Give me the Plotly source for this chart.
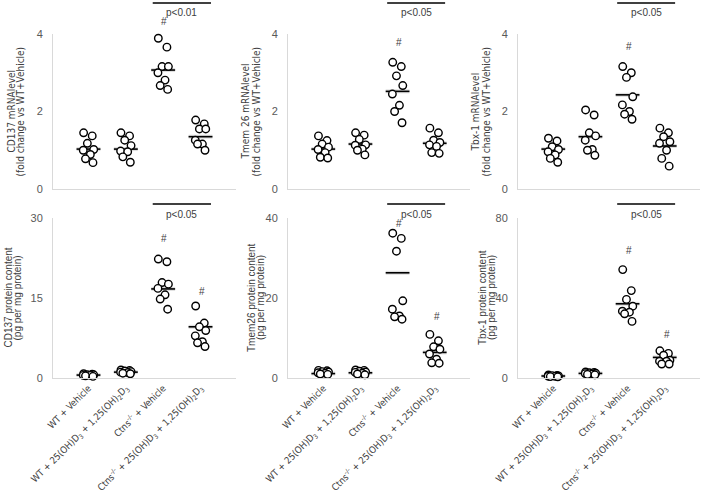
import plotly.graph_objects as go
from plotly.subplots import make_subplots

categories = [
    "WT + Vehicle",
    "WT + 25(OH)D<sub>3</sub> + 1,25(OH)<sub>2</sub>D<sub>3</sub>",
    "Ctns<sup>-/-</sup> + Vehicle",
    "Ctns<sup>-/-</sup> + 25(OH)D<sub>3</sub> + 1,25(OH)<sub>2</sub>D<sub>3</sub>",
]

# ---- data ----
cd137_mrna = [
    [1.45, 1.37, 1.18, 1.02, 1.00, 0.89, 0.78, 0.68],
    [1.45, 1.37, 1.26, 1.12, 0.98, 0.96, 0.83, 0.69],
    [3.89, 3.66, 3.16, 3.16, 3.00, 2.81, 2.67, 2.57],
    [1.78, 1.68, 1.55, 1.55, 1.26, 1.16, 1.16, 1.00],
]
cd137_mrna_mean = [1.03, 1.03, 3.07, 1.35]

tmem26_mrna = [
    [1.37, 1.25, 1.16, 1.08, 1.02, 0.94, 0.82, 0.80],
    [1.45, 1.39, 1.28, 1.14, 1.13, 1.03, 1.00, 0.88],
    [3.27, 3.16, 2.92, 2.67, 2.45, 2.16, 2.00, 1.71],
    [1.57, 1.45, 1.26, 1.20, 1.14, 1.10, 0.94, 0.92],
]
tmem26_mrna_mean = [1.03, 1.16, 2.52, 1.18]

tbx1_mrna = [
    [1.31, 1.24, 1.09, 1.02, 0.96, 0.88, 0.79, 0.69],
    [2.04, 1.91, 1.45, 1.37, 1.26, 1.02, 1.00, 0.87],
    [3.16, 3.00, 2.88, 2.38, 2.17, 2.00, 1.93, 1.80],
    [1.57, 1.45, 1.35, 1.22, 1.18, 1.00, 0.79, 0.59],
]
tbx1_mrna_mean = [1.03, 1.35, 2.43, 1.11]

cd137_prot = [
    [0.8, 0.7, 0.6, 0.6, 0.5, 0.5, 0.4, 0.3],
    [1.5, 1.4, 1.3, 1.2, 1.1, 1.0, 0.9, 0.8],
    [22.3, 21.8, 17.9, 17.6, 16.8, 15.6, 14.8, 12.9],
    [13.5, 10.3, 9.6, 8.9, 7.9, 6.8, 6.6, 5.9],
]
cd137_prot_mean = [0.55, 1.1, 16.7, 9.6]

tmem26_prot = [
    [1.9, 1.8, 1.6, 1.5, 1.3, 1.2, 1.0, 0.9],
    [2.0, 1.9, 1.7, 1.5, 1.4, 1.2, 1.0, 0.8],
    [36.2, 34.9, 31.7, 19.3, 17.2, 15.5, 15.3, 14.7],
    [10.9, 9.3, 7.8, 7.2, 6.0, 4.7, 3.8, 3.7],
]
tmem26_prot_mean = [1.1, 1.3, 26.3, 6.4]

tbx1_prot = [
    [1.5, 1.3, 1.2, 1.0, 0.9, 0.8, 0.7, 0.6],
    [3.0, 2.8, 2.6, 2.4, 2.2, 2.0, 1.8, 1.6],
    [54.2, 43.7, 39.3, 35.9, 33.4, 32.9, 32.1, 28.3],
    [13.6, 12.3, 11.4, 8.9, 8.4, 8.4, 7.0, 7.0],
]
tbx1_prot_mean = [1.0, 2.3, 37.1, 10.3]

y_titles = [
    ("CD137 mRNAlevel", "(fold change vs WT+Vehicle)"),
    ("Tmem 26 mRNAlevel", "(fold change vs WT+Vehicle)"),
    ("Tbx-1 mRNAlevel", "(fold change vs WT+Vehicle)"),
    ("CD137 protein content", "(pg per mg protein)"),
    ("Tmem26 protein content", "(pg per mg protein)"),
    ("Tbx-1 protein content", "(pg per mg protein)"),
]
y_max = [4, 4, 4, 30, 40, 80]
p_labels = ["p<0.01", "p<0.05", "p<0.05", "p<0.05", "p<0.05", "p<0.05"]
hash_group3 = [4.31, 3.77, 3.67, 26.25, 38.7, 63.6]
hash_group4 = [None, None, None, 16.2, 15.3, 22.0]

panels = [
    (cd137_mrna, cd137_mrna_mean),
    (tmem26_mrna, tmem26_mrna_mean),
    (tbx1_mrna, tbx1_mrna_mean),
    (cd137_prot, cd137_prot_mean),
    (tmem26_prot, tmem26_prot_mean),
    (tbx1_prot, tbx1_prot_mean),
]

# ---- layout geometry (pixels) ----
W, H = 709, 494
xdom_px = [(53, 236), (288, 470), (518, 700)]
ydom_px = [(34, 189), (218, 378)]
title_px = [(11, 20), (245, 256), (475, 486), (7.5, 16.5), (251, 260), (482, 491)]
jitter = [-0.13, 0.10, -0.03, 0.14, -0.14, 0.05, -0.08, 0.12]

narrow = "Liberation Sans Narrow, DejaVu Sans Condensed, sans-serif"
regular = "Liberation Sans, Arial, sans-serif"

fig = make_subplots(rows=2, cols=3)
annotations = []
shapes = []

for idx, (groups, means) in enumerate(panels):
    r, c = divmod(idx, 3)
    n = idx + 1
    xs, ys = [], []
    for gi, vals in enumerate(groups):
        order = sorted(range(len(vals)), key=lambda k: -vals[k])
        for rank, k in enumerate(order):
            xs.append(gi + jitter[rank % len(jitter)])
            ys.append(vals[k])
    mx, my = [], []
    for gi, m in enumerate(means):
        mx += [gi - 0.32, gi + 0.32, None]
        my += [m, m, None]
    fig.add_trace(go.Scatter(x=mx, y=my, mode="lines",
                             line=dict(color="rgba(0,0,0,0.13)", width=4),
                             hoverinfo="skip", showlegend=False), row=r + 1, col=c + 1)
    fig.add_trace(go.Scatter(x=mx, y=my, mode="lines",
                             line=dict(color="black", width=1.6),
                             hoverinfo="skip", showlegend=False), row=r + 1, col=c + 1)
    fig.add_trace(go.Scatter(x=xs, y=ys, mode="markers",
                             marker=dict(symbol="circle", size=7.5, color="white",
                                         line=dict(color="black", width=1.4)),
                             showlegend=False, cliponaxis=False), row=r + 1, col=c + 1)

    xd = [xdom_px[c][0] / W, xdom_px[c][1] / W]
    yd = [1 - ydom_px[r][1] / H, 1 - ydom_px[r][0] / H]
    xkey = "xaxis" if n == 1 else f"xaxis{n}"
    ykey = "yaxis" if n == 1 else f"yaxis{n}"
    fig.layout[xkey].update(
        domain=xd, range=[-0.95, 3.95], showline=True, linecolor="#d9d9d9",
        linewidth=1, showgrid=False, zeroline=False, ticks="", automargin=False,
        tickvals=[0, 1, 2, 3], ticktext=categories,
        showticklabels=(r == 1), tickangle=-45,
        tickfont=dict(family=narrow, size=9.5, color="#404040"),
    )
    fig.layout[ykey].update(
        domain=yd, range=[0, y_max[idx]], showline=True, linecolor="#d9d9d9",
        linewidth=1, showgrid=False, zeroline=False, ticks="", automargin=False,
        tickvals=[0, y_max[idx] / 2, y_max[idx]],
        tickfont=dict(family=regular, size=11, color="#595959"),
        ticklabelstandoff=7,
    )
    xr = "x" if n == 1 else f"x{n}"
    yr = "y" if n == 1 else f"y{n}"
    # y titles
    tfont = narrow if r == 0 else regular
    ymid = 1 - (ydom_px[r][0] + ydom_px[r][1]) / 2 / H
    for li, txt in enumerate(y_titles[idx]):
        annotations.append(dict(
            x=title_px[idx][li] / W, y=ymid, xref="paper", yref="paper",
            text=txt, textangle=-90, showarrow=False, xanchor="center", yanchor="middle",
            font=dict(family=tfont, size=10, color="#404040"),
        ))
    # significance bar + p text
    hpx = ydom_px[r][1] - ydom_px[r][0]
    bar_px = 3 if r == 0 else 204
    txt_px = 13 if r == 0 else 214
    bar_y = 1 + (ydom_px[r][0] - bar_px) / hpx
    txt_y = 1 + (ydom_px[r][0] - txt_px) / hpx
    shapes.append(dict(type="line", xref=xr, yref=f"{yr} domain",
                       x0=1.72, x1=3.28, y0=bar_y, y1=bar_y,
                       line=dict(color="#404040", width=2)))
    annotations.append(dict(x=2.5, y=txt_y, xref=xr, yref=f"{yr} domain",
                            text=p_labels[idx].replace("<", "&lt;"), showarrow=False,
                            xanchor="center", yanchor="middle",
                            font=dict(family=regular, size=10, color="#404040")))
    # hash marks (domain-referenced so those above the axis top still show)
    annotations.append(dict(x=2.03, y=hash_group3[idx] / y_max[idx], xref=xr,
                            yref=f"{yr} domain", text="#",
                            showarrow=False, xanchor="center", yanchor="middle",
                            font=dict(family=regular, size=10, color="#404040")))
    if hash_group4[idx] is not None:
        annotations.append(dict(x=3.05, y=hash_group4[idx] / y_max[idx], xref=xr,
                                yref=f"{yr} domain", text="#",
                                showarrow=False, xanchor="center", yanchor="middle",
                                font=dict(family=regular, size=10, color="#404040")))

fig.update_layout(
    width=W, height=H, margin=dict(l=0, r=0, t=0, b=0),
    paper_bgcolor="white", plot_bgcolor="white",
    annotations=annotations, shapes=shapes, showlegend=False,
)
fig.write_html("out.html", config={"displayModeBar": False},
               post_script="document.body.style.margin='0';document.body.style.overflow='hidden';")
